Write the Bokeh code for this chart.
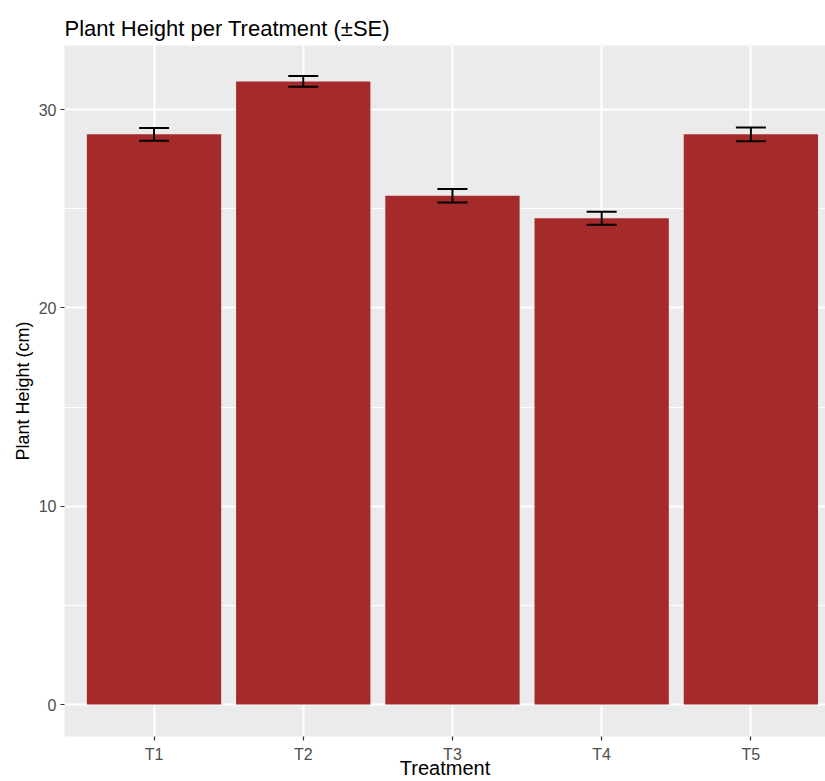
from bokeh.plotting import figure
from bokeh.models import ColumnDataSource, Range1d, FixedTicker, Whisker, TeeHead
from bokeh.embed import file_html
from bokeh.resources import INLINE

treatments = ["T1", "T2", "T3", "T4", "T5"]
mean_height = [28.75, 31.42, 25.65, 24.52, 28.75]
se_height = [0.32, 0.27, 0.34, 0.33, 0.35]
y_ticks = [0, 10, 20, 30]
y_minor = [5, 15, 25]

xpos = [i + 1 for i in range(len(treatments))]
src = ColumnDataSource(dict(
    x=xpos, mean=mean_height,
    lower=[m - s for m, s in zip(mean_height, se_height)],
    upper=[m + s for m, s in zip(mean_height, se_height)],
))

FONT = "Liberation Sans"

p = figure(width=825, height=781, output_backend="svg", toolbar_location=None,
           x_range=Range1d(0.4, 5.5), y_range=Range1d(-1.61, 33.23),
           min_border_left=64, min_border_right=0, min_border_top=45, min_border_bottom=45,
           title="Plant Height per Treatment (±SE)")

p.background_fill_color = "#EBEBEB"
p.border_fill_color = "white"
p.outline_line_color = None

p.title.text_font = FONT
p.title.text_font_size = "22px"
p.title.text_font_style = "normal"
p.title.text_color = "#000000"
p.title.align = "left"

p.vbar(x="x", top="mean", bottom=0, width=0.9, source=src,
       fill_color="#A52A2A", line_color=None)

w = Whisker(source=src, base="x", upper="upper", lower="lower",
            line_color="black", line_width=2,
            upper_head=TeeHead(size=30, line_color="black", line_width=2),
            lower_head=TeeHead(size=30, line_color="black", line_width=2))
w.level = "overlay"
p.add_layout(w)

# axes
p.xaxis.ticker = FixedTicker(ticks=xpos)
p.xaxis.major_label_overrides = {x: t for x, t in zip(xpos, treatments)}
p.yaxis.ticker = FixedTicker(ticks=y_ticks, minor_ticks=y_minor)

for ax in (p.xaxis[0], p.yaxis[0]):
    ax.axis_line_color = None
    ax.major_tick_line_color = "#333333"
    ax.major_tick_line_width = 1.2
    ax.major_tick_out = 4
    ax.major_tick_in = 0
    ax.minor_tick_line_color = None
    ax.major_label_text_font = FONT
    ax.major_label_text_font_size = "16px"
    ax.major_label_text_color = "#4D4D4D"
    ax.axis_label_text_font = FONT
    ax.axis_label_text_font_style = "normal"
    ax.axis_label_text_color = "#000000"

p.xaxis.axis_label = "Treatment"
p.xaxis.axis_label_text_font_size = "20px"
p.yaxis.axis_label = "Plant Height (cm)"
p.yaxis.axis_label_text_font_size = "18px"
p.xaxis.major_label_standoff = 5
p.xaxis.axis_label_standoff = -9
p.yaxis.major_label_standoff = 4
p.yaxis.axis_label_standoff = 3

# grid
p.xgrid.grid_line_color = "white"
p.xgrid.grid_line_width = 2
p.ygrid.grid_line_color = "white"
p.ygrid.grid_line_width = 2
p.ygrid.minor_grid_line_color = "white"
p.ygrid.minor_grid_line_width = 1.1

open("out.html", "w").write(file_html(p, INLINE))
